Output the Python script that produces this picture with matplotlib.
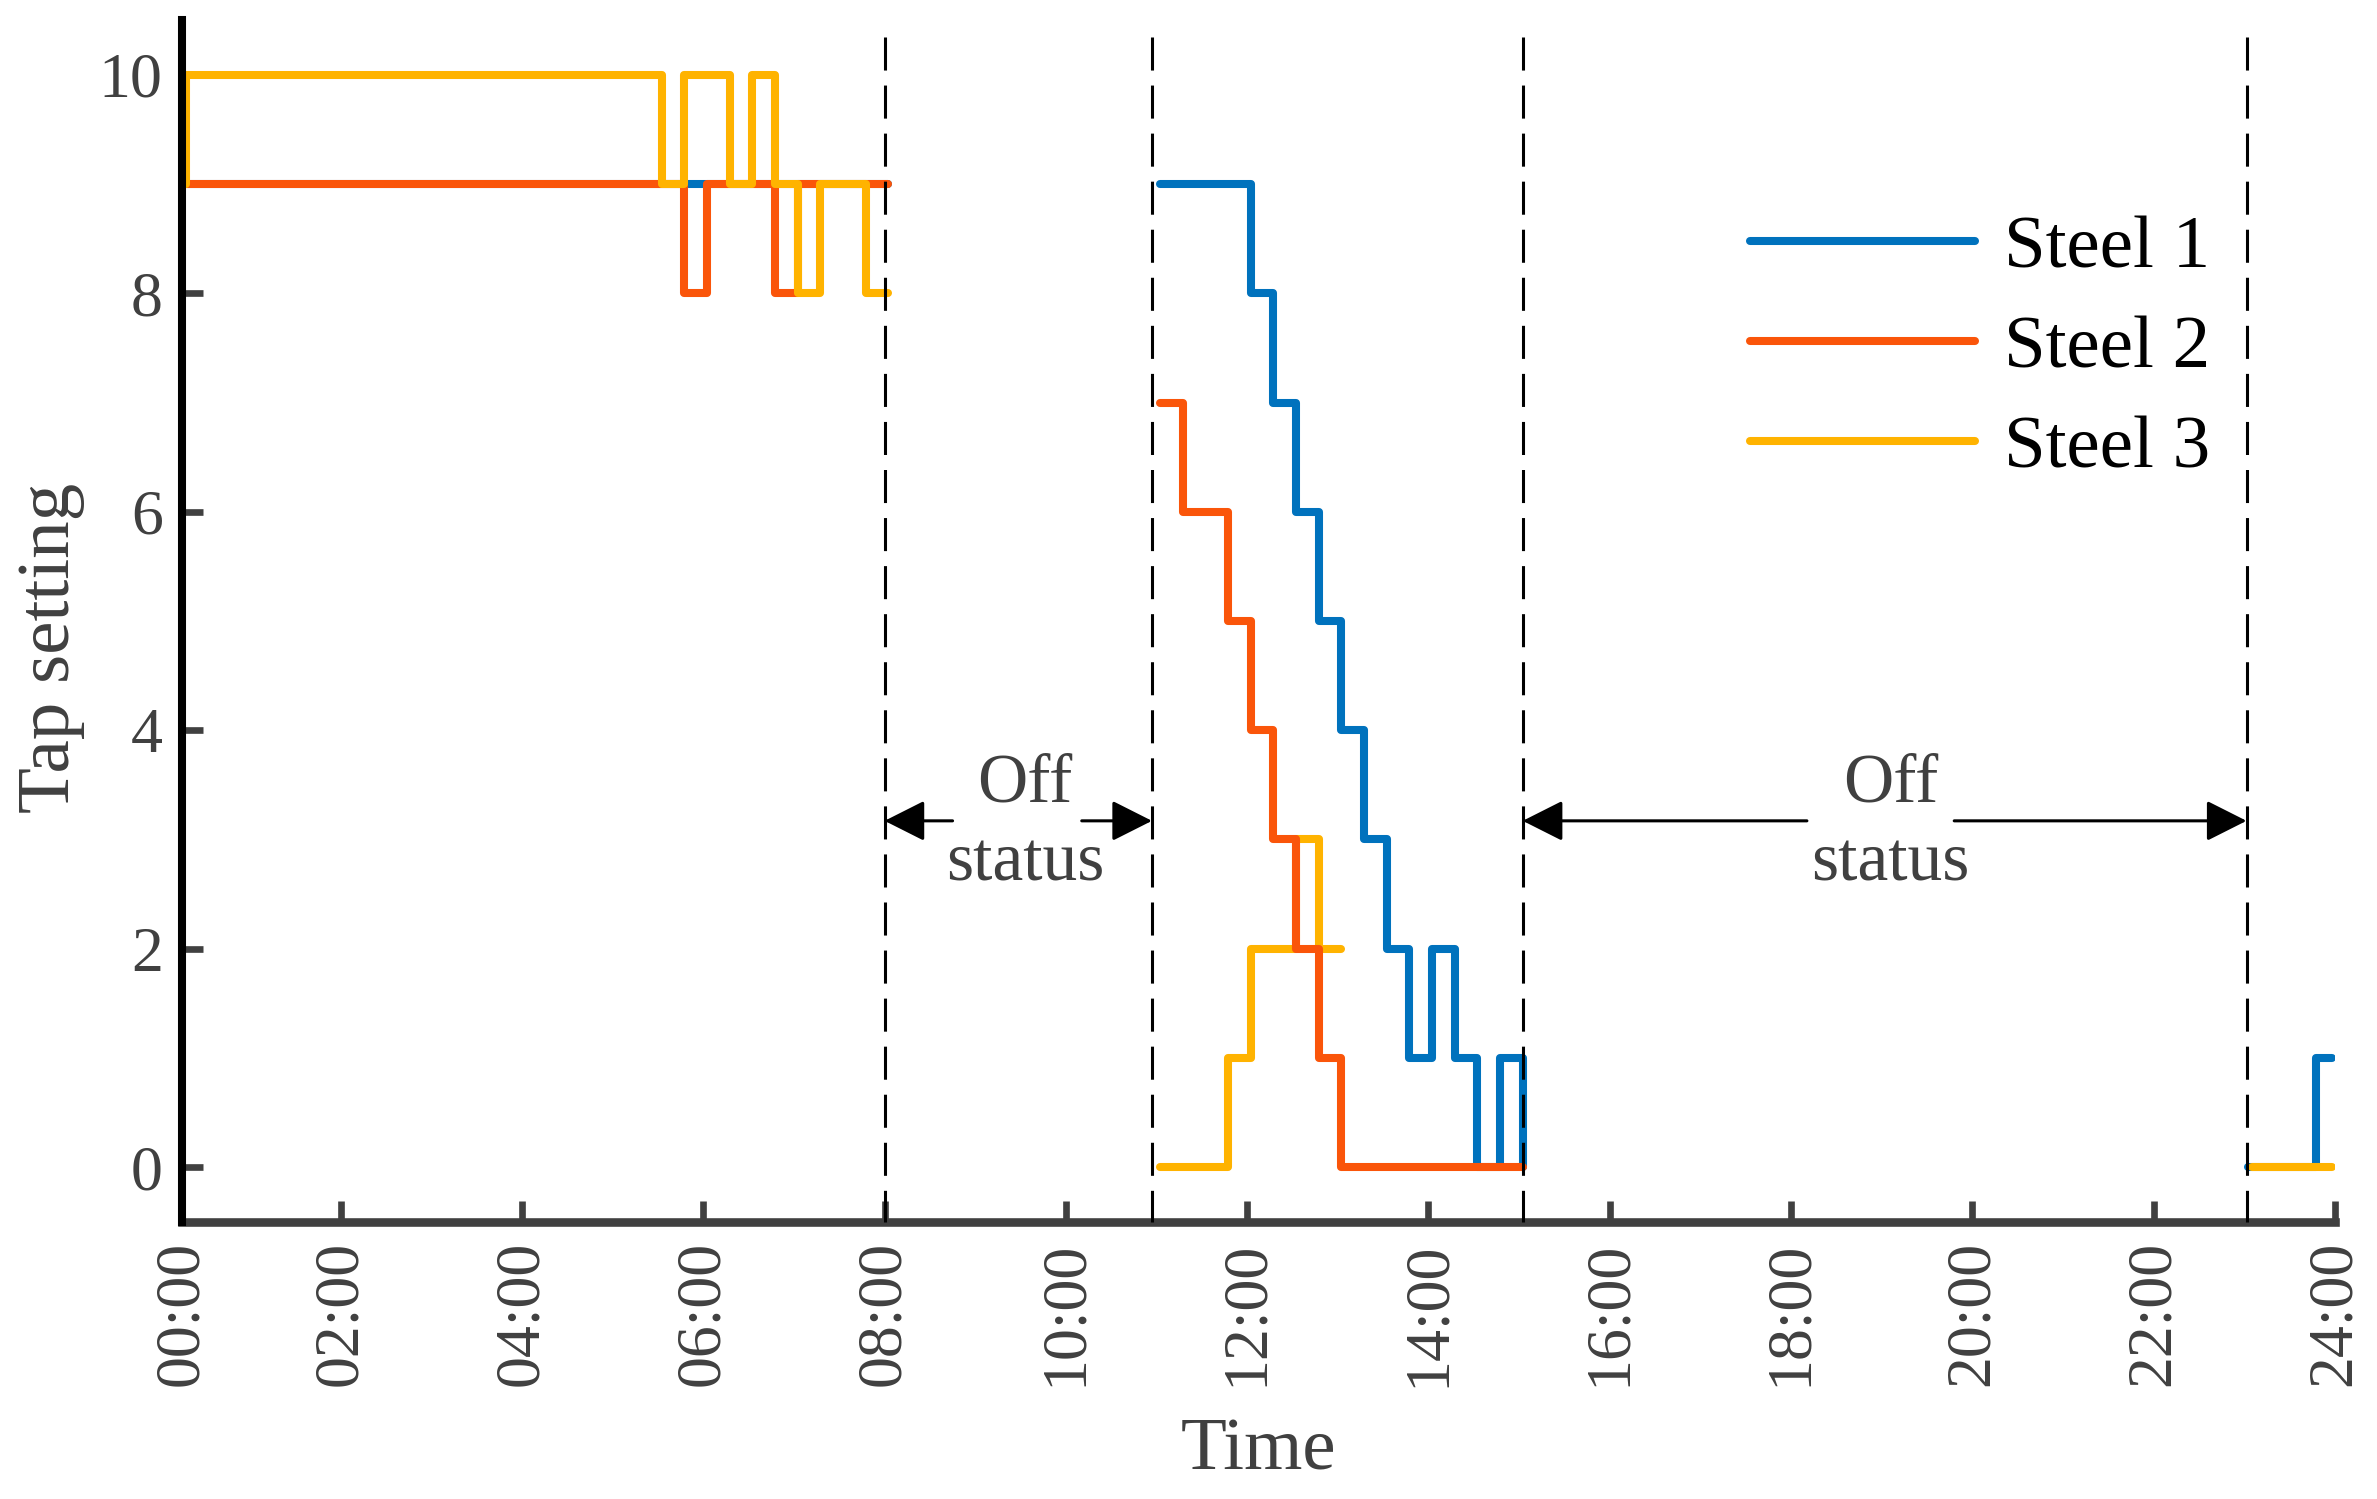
import matplotlib
matplotlib.use("Agg")
import matplotlib.pyplot as plt
from matplotlib.lines import Line2D

plt.rcParams["font.family"] = ["Liberation Serif", "DejaVu Serif"]

# time axis: 96 slots of 15 min, slot 1 labelled 00:00
TICK_SLOTS  = [1, 8, 16, 24, 32, 40, 48, 56, 64, 72, 80, 88, 96]
TICK_LABELS = ["00:00", "02:00", "04:00", "06:00", "08:00", "10:00", "12:00",
               "14:00", "16:00", "18:00", "20:00", "22:00", "24:00"]
X_SHIFT = 0.16          # the drawn steps sit a little right of the tick marks

# each segment: change points (slots) and the tap held after each point
S1_EDGES_A  = [1, 32];                       S1_LEVELS_A = [9, 9]
S1_EDGES_B  = [44, 48, 49, 50, 51, 52, 53, 54, 55, 56, 57, 58, 59, 60]
S1_LEVELS_B = [9, 8, 7, 6, 5, 4, 3, 2, 1, 2, 1, 0, 1, 0]
S1_EDGES_C  = [92, 95, 95.7];                S1_LEVELS_C = [0, 1, 1]

S2_EDGES_A  = [1, 23, 24, 27, 28, 32];       S2_LEVELS_A = [9, 8, 9, 8, 9, 9]
S2_EDGES_B  = [44, 45, 47, 48, 49, 50, 51, 52, 60]
S2_LEVELS_B = [7, 6, 5, 4, 3, 2, 1, 0, 0]

S3_EDGES_A  = [1, 1, 22, 23, 25, 26, 27, 28, 29, 31, 32]
S3_LEVELS_A = [9, 10, 9, 10, 9, 10, 9, 8, 9, 8, 8]
S3_EDGES_B  = [44, 47, 48, 50, 51, 52];      S3_LEVELS_B = [0, 1, 2, 3, 2, 2]
S3_EDGES_C  = [92.2, 95.7];                  S3_LEVELS_C = [0, 0]

OFF_LINES   = [32, 43.8, 60.16, 92.1]
OFF_PERIODS = [(32, 35.0, 40.7, 43.8, 38.2), (60.16, 72.7, 79.2, 92.1, 76.4)]
OFF_Y = 3.17

BLUE, RED, YELLOW = "#0072BD", "#FA550A", "#FFB300"
GREY = "#404040"
LW = 2.9

fig = plt.figure(figsize=(2377 / 200, 1499 / 200), dpi=200)
ax = fig.add_axes([0.0766, 0.185, 0.9057, 0.8015])


def steps(edges, levels, color, z):
    xs = [e + X_SHIFT for e in edges]
    ax.step(xs, levels, where="post", color=color, lw=LW, zorder=z,
            solid_capstyle="round", solid_joinstyle="round")


steps(S1_EDGES_A, S1_LEVELS_A, BLUE, 3)
steps(S1_EDGES_B, S1_LEVELS_B, BLUE, 3)
steps(S1_EDGES_C, S1_LEVELS_C, BLUE, 3)
steps(S2_EDGES_A, S2_LEVELS_A, RED, 3.5)
steps(S2_EDGES_B, S2_LEVELS_B, RED, 3.5)
steps(S3_EDGES_A, S3_LEVELS_A, YELLOW, 4)
steps(S3_EDGES_B, S3_LEVELS_B, YELLOW, 3.2)
steps(S3_EDGES_C, S3_LEVELS_C, YELLOW, 4)

dash_lw = 1.1
for xv in OFF_LINES:
    ax.plot([xv, xv], [10.35, -0.5], color="black", lw=dash_lw,
            ls=(0, (11.9 / dash_lw, 5.4 / dash_lw)), zorder=5, clip_on=False)

arrow = dict(arrowstyle="-|>,head_length=12.5,head_width=6.3", color="black",
             lw=1.1, shrinkA=0, shrinkB=0, mutation_scale=1)
for left, l_tail, r_tail, right, xc in OFF_PERIODS:
    ax.annotate("", xy=(left, OFF_Y), xytext=(l_tail, OFF_Y), arrowprops=arrow, zorder=6)
    ax.annotate("", xy=(right, OFF_Y), xytext=(r_tail, OFF_Y), arrowprops=arrow, zorder=6)
    ax.text(xc, OFF_Y - 0.03, "Off\nstatus", ha="center", va="center", fontsize=25,
            color=GREY, linespacing=1.32, zorder=6)

ax.set_xlim(1, 96)
ax.set_ylim(-0.5, 10.5)
ax.set_xticks(TICK_SLOTS)
ax.set_xticklabels(TICK_LABELS, rotation=90)
ax.set_yticks(range(0, 11, 2))

for s in ("top", "right"):
    ax.spines[s].set_visible(False)
ax.spines["left"].set_color("black")
ax.spines["left"].set_linewidth(2.9)
ax.spines["bottom"].set_color(GREY)
ax.spines["bottom"].set_linewidth(3.1)
ax.spines["left"].set_zorder(6)

ax.tick_params(direction="in", length=7.5, width=2.4, color=GREY,
               labelcolor=GREY, labelsize=23)
ax.tick_params(axis="x", pad=7)
ax.tick_params(axis="y", pad=7)

ax.set_xlabel("Time", fontsize=27, color=GREY)
ax.set_ylabel("Tap setting", fontsize=27, color=GREY)
ax.xaxis.set_label_coords(0.5, -0.163)
ax.yaxis.set_label_coords(-0.045, 0.4775)

handles = [Line2D([], [], color=c, lw=LW, solid_capstyle="round") for c in (BLUE, RED, YELLOW)]
ax.legend(handles, ["Steel 1", "Steel 2", "Steel 3"], loc="upper left",
          bbox_to_anchor=(0.7285, 0.838), frameon=False, fontsize=27,
          handlelength=3.0, handletextpad=0.38, labelspacing=0.42,
          borderpad=0, borderaxespad=0)

fig.savefig("out.png", dpi=200)
